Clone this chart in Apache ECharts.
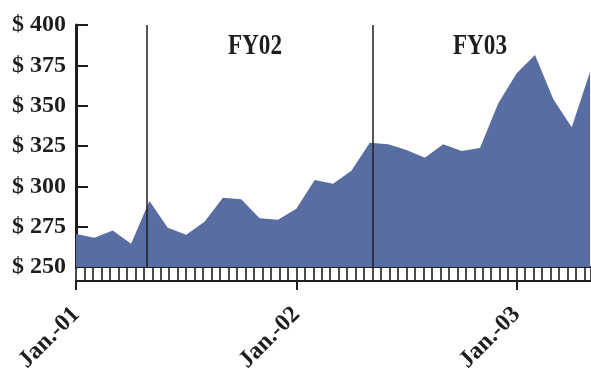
<!DOCTYPE html>
<html>
<head>
<meta charset="utf-8">
<script src="https://cdn.jsdelivr.net/npm/echarts@6/dist/echarts.min.js"></script>
<style>
  html, body { margin: 0; padding: 0; background: #fff; }
  #chart { width: 591px; height: 368px; }
</style>
</head>
<body>
<div id="chart"></div>
<script>
// Monthly values, index 0 = January 2001
const monthIndex = [0,1,2,3,4,5,6,7,8,9,10,11,12,13,14,15,16,17,18,19,20,21,22,23,24,25,26,27,28];
const values = [270.5,268.2,272.7,264.4,290.9,274.4,270.0,278.1,293.0,292.0,280.2,279.3,
                286.1,303.9,301.6,309.7,327.0,326.1,322.5,317.7,326.1,321.9,323.8,351.5,
                370.1,381.4,354.0,336.6,371.1];
// Year tick labels (every 12 months)
const yearLabels = ['Jan.-01', 'Jan.-02', 'Jan.-03'];
// Fiscal-year boundaries (in months from Jan. 2001) and their names
const fyBoundaries = [3.87, 16.19];
const fyNames = ['FY02', 'FY03'];

const SERIF = '"Liberation Serif", "Times New Roman", serif';
const INK = '#1e1e1e';
const xMax = 28.05;

const chart = echarts.init(document.getElementById('chart'), null, { renderer: 'canvas' });

chart.setOption({
  animation: false,
  backgroundColor: '#ffffff',
  grid: { left: 76, right: 0, top: 25, bottom: 101, containLabel: false, outerBoundsMode: 'none' },
  xAxis: [
    {
      // tick strip: bi-weekly boxes
      type: 'value', min: 0, max: xMax, interval: 12 / 26,
      position: 'bottom',
      axisLine: { show: true, lineStyle: { color: INK, width: 2 } },
      axisTick: { show: true, length: 14, lineStyle: { color: INK, width: 1.6 } },
      axisLabel: { show: false },
      splitLine: { show: false }
    },
    {
      // year ticks and labels under the strip
      type: 'value', min: 0, max: xMax, interval: 12,
      position: 'bottom', offset: 14,
      axisLine: { show: true, lineStyle: { color: INK, width: 2 } },
      axisTick: { show: true, length: 9, lineStyle: { color: INK, width: 2 } },
      axisLabel: {
        show: true, rotate: 45, margin: 30,
        fontFamily: SERIF, fontWeight: 'bold', fontSize: 24, color: INK,
        showMaxLabel: false,
        formatter: v => {
          const i = Math.round(v / 12);
          return Math.abs(v - i * 12) < 1e-6 && yearLabels[i] ? yearLabels[i] : '';
        }
      },
      splitLine: { show: false }
    }
  ],
  yAxis: {
    type: 'value', min: 250, max: 400, interval: 25,
    axisLine: { show: true, lineStyle: { color: INK, width: 3 } },
    axisTick: { show: true, inside: true, length: 12, lineStyle: { color: INK, width: 2 } },
    axisLabel: {
      margin: 10, fontFamily: SERIF, fontWeight: 'bold', fontSize: 24, color: INK,
      formatter: v => '$ ' + v
    },
    splitLine: { show: false }
  },
  series: [{
    type: 'line',
    xAxisIndex: 0,
    data: monthIndex.map((m, i) => [m, values[i]]),
    symbol: 'none',
    lineStyle: { width: 0, color: '#586ea2' },
    areaStyle: { color: '#586ea2', opacity: 1 },
    markLine: {
      silent: true, symbol: 'none',
      label: { show: false },
      lineStyle: { color: INK, width: 1.5, type: 'solid' },
      data: fyBoundaries.map(b => ({ xAxis: b }))
    }
  }],
  graphic: [
    { type: 'text', x: 255, y: 47, scaleX: 0.8,
      style: { text: fyNames[0], font: 'bold 29px ' + SERIF, fill: INK, align: 'center', verticalAlign: 'middle' } },
    { type: 'text', x: 480, y: 47, scaleX: 0.8,
      style: { text: fyNames[1], font: 'bold 29px ' + SERIF, fill: INK, align: 'center', verticalAlign: 'middle' } }
  ]
});
</script>
</body>
</html>
